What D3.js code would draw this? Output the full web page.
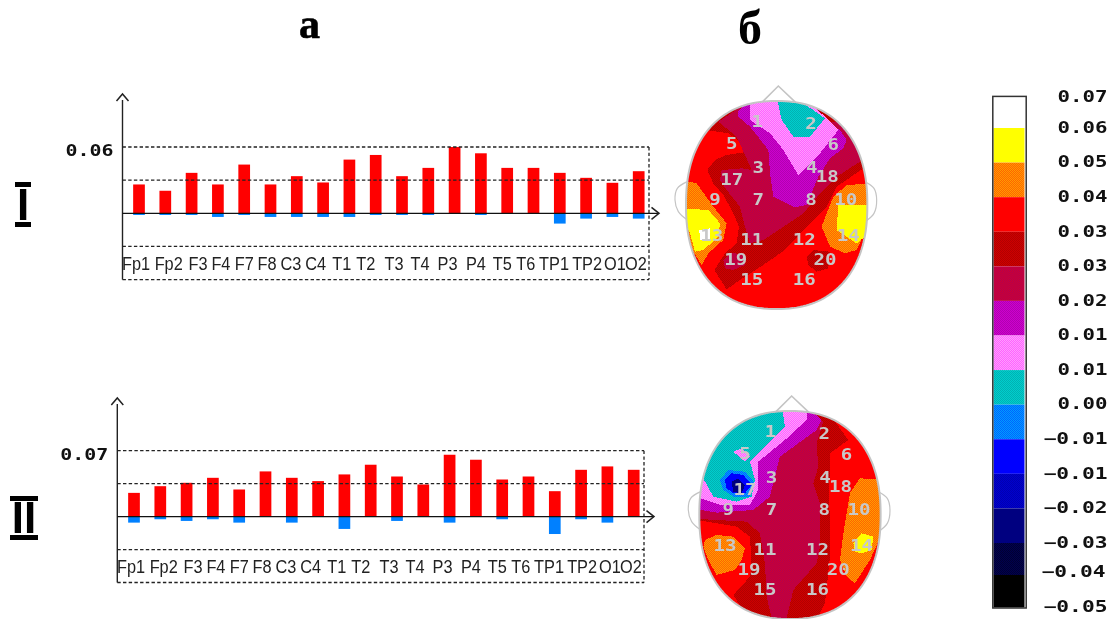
<!DOCTYPE html>
<html><head><meta charset="utf-8">
<script src="https://cdn.jsdelivr.net/npm/d3@7"></script>
<style>html,body{margin:0;padding:0;background:#fff}svg{display:block;filter:blur(.3px)}</style>
</head><body><svg id="c" width="1114" height="619"></svg>
<script>
// ---------- data ----------
const channels = ["Fp1","Fp2","F3","F4","F7","F8","C3","C4","T1","T2","T3","T4","P3","P4","T5","T6","TP1","TP2","O1","O2"];
const posI  = [0.0261,0.0204,0.0366,0.0261,0.0441,0.0261,0.0336,0.0279,0.0486,0.0528,0.0336,0.0411,0.0600,0.0543,0.0411,0.0411,0.0366,0.0321,0.0276,0.0381];
const negI  = [-0.0015,-0.0015,-0.0015,-0.0033,-0.0015,-0.0033,-0.0033,-0.0033,-0.0033,-0.0015,-0.0015,-0.0015,0,-0.0015,0,0,-0.0093,-0.0048,-0.0033,-0.0048];
const posII = [0.0252,0.0323,0.0359,0.0412,0.0288,0.0480,0.0412,0.0377,0.0448,0.0551,0.0426,0.0341,0.0657,0.0604,0.0394,0.0426,0.0270,0.0497,0.0533,0.0497];
const negII = [-0.0064,-0.0028,-0.0046,-0.0028,-0.0064,0,-0.0064,0,-0.0131,0,-0.0046,0,-0.0064,0,-0.0028,0,-0.0185,-0.0028,-0.0064,0];
const topI = 0.06, topII = 0.07;
const legendLabels = ["0.07","0.06","0.05","0.04","0.03","0.03","0.02","0.01","0.01","0.00","−0.01","−0.01","−0.02","−0.03","−0.04","−0.05"];
const electrodes = ["1","2","5","6","3","4","17","18","9","7","8","10","13","11","12","14","19","20","15","16"];
const electrodeX = [262,423,185,490,265,425,185,472,135,265,423,527,125,245,403,535,197,465,245,403];
const electrodeY = [125,132,192,195,262,262,300,290,360,360,360,360,467,480,480,467,538,538,598,598];
// colour levels, top of the legend to bottom: [colour A, colour B] dither pairs
const levels = [["#ffffff","#ffffff"],["#ffff00","#ffff00"],["#ff0000","#ffff00"],["#ff0000","#ff0000"],["#ff0000","#800000"],["#ff0000","#800080"],["#ff00ff","#800080"],["#ff00ff","#ffffff"],["#00ffff","#008080"],["#00ffff","#0000ff"],["#0000ff","#0000ff"],["#0000ff","#000080"],["#000080","#000080"],["#000080","#000000"],["#000000","#000000"]];
const O=2,Y=1,W=0,R=3,D=4,C=5,P=6,K=7,T=8,B=9,U=10,N=12;
const bandsI = [
 [D,[[110,150],[210,50],[510,90],[580,190],[580,265],[500,320],[470,380],[420,430],[345,510],[280,555],[210,600],[170,628],[133,570],[165,520],[200,490],[207,440],[190,400],[160,345],[130,310],[112,270],[135,240],[170,225],[235,215],[210,185],[175,160]]],
 [C,[[145,125],[205,85],[520,130],[570,205],[570,245],[500,290],[450,340],[400,400],[340,440],[280,480],[240,490],[225,440],[210,380],[170,330],[150,300],[155,270],[215,265],[245,270],[225,225],[200,170]]],
 [C,[[160,540],[185,518],[225,525],[225,555],[190,570],[165,565]]],
 [P,[[205,95],[240,55],[510,150],[530,180],[520,205],[480,235],[445,290],[410,375],[375,382],[310,350],[300,280],[295,210],[240,140],[205,110]]],
 [K,[[240,50],[400,50],[470,115],[505,150],[450,220],[385,285],[340,210],[300,160],[240,120]]],
 [T,[[320,50],[365,50],[430,90],[465,115],[420,170],[370,170],[335,120]]],
 [O,[[30,300],[80,310],[130,380],[170,430],[160,480],[115,520],[95,555],[60,500],[30,400]]],
 [Y,[[30,385],[115,390],[150,430],[145,470],[100,510],[75,515],[60,460]]],
 [W,[[88,450],[120,445],[120,480],[90,480]]],
 [O,[[610,310],[530,315],[490,350],[470,400],[455,440],[480,500],[525,520],[560,510],[610,400]]],
 [Y,[[610,375],[505,375],[500,450],[560,490],[610,450]]],
 [D,[[410,530],[430,510],[480,515],[475,565],[440,575],[415,555]]]
];
const bandsII = [
 [D,[[420,45],[495,150],[440,190],[438,300],[440,500],[425,640],[390,710],[210,710],[150,615],[200,560],[205,530],[200,440],[160,410],[10,385],[10,250],[150,40]]],
 [C,[[10,385],[190,395],[230,430],[245,520],[250,620],[270,705],[305,705],[330,600],[400,520],[410,470],[410,340],[390,280],[405,230],[400,160],[420,95],[360,40],[160,30],[10,250]]],
 [P,[[10,352],[100,368],[210,360],[260,320],[290,200],[400,120],[415,90],[370,50],[160,30],[10,250]]],
 [K,[[10,310],[110,345],[200,345],[225,300],[225,215],[305,150],[370,90],[370,30],[160,30],[10,250]]],
 [T,[[60,265],[90,320],[160,335],[205,320],[215,270],[200,215],[260,155],[305,110],[295,40],[160,30],[20,230]]],
 [K,[[150,185],[175,175],[200,200],[185,215]]],
 [B,[[110,270],[135,240],[185,245],[215,280],[200,320],[150,320],[120,300]]],
 [U,[[125,270],[145,250],[180,255],[205,285],[185,310],[150,310],[130,295]]],
 [N,[[145,275],[165,265],[185,285],[175,310],[150,305]]],
 [O,[[65,450],[100,435],[150,440],[185,475],[175,510],[155,540],[100,555],[75,510],[60,470]]],
 [O,[[610,270],[530,265],[500,310],[485,400],[475,470],[470,510],[490,560],[515,580],[560,510],[610,400]]],
 [Y,[[510,460],[535,430],[570,440],[565,480],[535,490],[515,485]]]
];
// scalp outline parts, in the same units
const nose = [[278,65],[325,18],[380,70]];
const earL = [[52,305],[22,325],[15,360],[25,395],[52,420]];
const earR = [[585,305],[612,325],[620,360],[612,400],[585,425]];
const scalpCentre = [320,375], scalpRadii = [272,312], scalpPower = 2.3;

// ---------- helpers ----------
const svg = d3.select("#c");
const defs = svg.append("defs");
levels.forEach((l,i)=>{
  const mid = d3.interpolateRgb(l[0],l[1])(.5);
  const p = defs.append("pattern").attr("id","lv"+i).attr("width",2).attr("height",2).attr("patternUnits","userSpaceOnUse").attr("shape-rendering","crispEdges");
  p.append("path").attr("d","M0 0H2V2H0Z").attr("fill",d3.interpolateRgb(mid,l[0])(.22));
  p.append("path").attr("d","M0 0H1V1H0ZM1 1H2V2H1Z").attr("fill",d3.interpolateRgb(mid,l[1])(.22));
});
const WIDE = "'DejaVu Sans Mono'";
function wide(sel){ // stretched bitmap-style numerals
  sel.attr("font-family",WIDE).attr("font-weight","bold").attr("font-size",15)
     .attr("lengthAdjust","spacingAndGlyphs");
}

// ---------- bar panels ----------
function barPanel(o){
  const step = (o.x1-o.x0)/19;
  const x = d3.scaleBand().domain(channels).range([o.x0-step/2,o.x1+step/2]).paddingInner(.555).paddingOuter(.2775);
  const y = d3.scaleLinear().domain([-o.top,o.top]).range([o.yBottom,o.yTop]);
  const g = svg.append("g");
  const dash = "3.4 2.3";
  g.append("g").selectAll("rect").data(o.neg).join("rect")
    .attr("x",(d,i)=>x(channels[i])).attr("width",x.bandwidth())
    .attr("y",y(0)).attr("height",d=>y(d)-y(0)).attr("fill","#0080ff");
  g.append("g").selectAll("rect").data(o.pos).join("rect")
    .attr("x",(d,i)=>x(channels[i])).attr("width",x.bandwidth())
    .attr("y",d=>y(d)).attr("height",d=>y(0)-y(d)).attr("fill","#ff0000");
  const right = o.x1+10.3;
  g.append("g").selectAll("line").data([o.top,o.top/2,-o.top/2,-o.top]).join("line")
    .attr("x1",o.axisX).attr("x2",right).attr("y1",d=>y(d)).attr("y2",d=>y(d))
    .attr("stroke","#222").attr("stroke-width",1.3).attr("stroke-dasharray",dash);
  g.append("line").attr("x1",right).attr("x2",right).attr("y1",y(o.top)).attr("y2",y(-o.top))
    .attr("stroke","#222").attr("stroke-width",1.3).attr("stroke-dasharray",dash);
  const ax = g.append("g").attr("transform",`translate(${o.axisX},0)`)
    .call(d3.axisLeft(y).tickValues([o.top]).tickSize(0).tickPadding(9).tickFormat(d3.format(".2f")));
  ax.select(".domain").remove();
  ax.selectAll("text").call(wide).attr("fill","#111").attr("textLength",48).attr("y",4).attr("dy",".32em");
  g.append("line").attr("x1",o.axisX).attr("x2",o.axisX).attr("y1",o.arrowTop).attr("y2",y(-o.top)).attr("stroke","#222").attr("stroke-width",1.4);
  g.append("line").attr("x1",o.axisX).attr("x2",right+10).attr("y1",y(0)).attr("y2",y(0)).attr("stroke","#111").attr("stroke-width",1.3);
  const chev = d3.line();
  g.append("path").attr("d",chev([[o.axisX-6,o.arrowTop+1],[o.axisX,o.arrowTop-6],[o.axisX+6,o.arrowTop+1]])).attr("fill","none").attr("stroke","#222").attr("stroke-width",1.5);
  g.append("path").attr("d",chev([[right+2.5,y(0)-6],[right+10,y(0)],[right+2.5,y(0)+6]])).attr("fill","none").attr("stroke","#222").attr("stroke-width",1.5);
  const nudge = [-3,3.4,6.4,3,0,-3.5,-5.8,-7.4,-7.7,-10,-8,-8.3,-7,-5,-5,-7.8,-5.8,1,2.6,-2.7];
  const cat = g.append("g").attr("transform",`translate(0,${o.labelY})`)
    .call(d3.axisBottom(x).tickSize(0).tickPadding(0));
  cat.select(".domain").remove();
  cat.selectAll(".tick text").attr("font-family","'Liberation Sans'").attr("font-size",19).attr("fill","#222")
    .attr("y",0).attr("dy",0)
    .attr("transform",(d,i)=>`translate(${nudge[i]},0) scale(.86,1)`);
}
barPanel({pos:posI,neg:negI,top:topI,x0:139,x1:638.7,axisX:122.5,yTop:147,yBottom:279.6,arrowTop:100,labelY:270});
barPanel({pos:posII,neg:negII,top:topII,x0:134,x1:633.7,axisX:117.3,yTop:450.7,yBottom:582.5,arrowTop:404,labelY:573.3});

// ---------- scalp maps ----------
function scalp(id,bands,x0,y0){
  const sx = d3.scaleLinear().domain([0,660]).range([x0,x0+220]);
  const sy = d3.scaleLinear().domain([0,705]).range([y0,y0+235]);
  const line = d3.line().x(d=>sx(d[0])).y(d=>sy(d[1]));
  const g = svg.append("g");
  const e = 2/scalpPower;
  const outline = d3.range(0,2*Math.PI,Math.PI/90).map(t=>{
    const c=Math.cos(t), s=Math.sin(t);
    return [scalpCentre[0]+scalpRadii[0]*Math.sign(c)*Math.pow(Math.abs(c),e),
            scalpCentre[1]+scalpRadii[1]*Math.sign(s)*Math.pow(Math.abs(s),e)];
  });
  const outlinePath = line(outline)+"Z";
  defs.append("clipPath").attr("id",id).append("path").attr("d",outlinePath);
  const gray="#c4c4c4";
  g.append("path").attr("d",line(nose)).attr("fill","none").attr("stroke",gray).attr("stroke-width",1.6);
  [earL,earR].forEach(p=>g.append("path").attr("d",line.curve(d3.curveCatmullRom)(p)).attr("fill","none").attr("stroke",gray).attr("stroke-width",1.2));
  line.curve(d3.curveLinear);
  const m = g.append("g").attr("clip-path",`url(#${id})`).attr("shape-rendering","crispEdges");
  m.append("path").attr("d",outlinePath).attr("fill",`url(#lv${R})`);
  m.selectAll("path.band").data(bands).join("path").attr("class","band").attr("d",d=>line(d[1])+"Z").attr("fill",d=>`url(#lv${d[0]})`);
  g.append("path").attr("d",outlinePath).attr("fill","none").attr("stroke",gray).attr("stroke-width",2);
  g.selectAll("text").data(electrodes).join("text")
    .attr("x",(d,i)=>sx(electrodeX[i])).attr("y",(d,i)=>sy(electrodeY[i])).attr("dy",".36em")
    .attr("text-anchor","middle").text(d=>d).attr("fill","#c8c8c8")
    .call(wide).attr("textLength",d=>d.length*11.5);
}
scalp("h1",bandsI,670,80);
scalp("h2",bandsII,683.3,390);

// ---------- legend ----------
const ly = d3.scaleLinear().domain([0,1,13,14,15]).range([97,128,543,575,607.5]);
const lg = svg.append("g");
lg.selectAll("rect").data(levels).join("rect")
  .attr("x",993.5).attr("width",31).attr("y",(d,i)=>ly(i)).attr("height",(d,i)=>ly(i+1)-ly(i))
  .attr("fill",(d,i)=>`url(#lv${i})`);
lg.append("rect").attr("x",992.8).attr("y",96.4).attr("width",33.4).attr("height",511.6).attr("fill","none").attr("stroke","#333").attr("stroke-width",1.5);
lg.selectAll("text").data(legendLabels).join("text")
  .attr("x",(d,i)=>i===14?1105.5:1107.5).attr("y",(d,i)=>ly(i)-(i===14?3:0.6)).attr("dy",".36em")
  .attr("text-anchor","end").text(d=>d).attr("fill","#111")
  .call(wide).attr("textLength",d=>d.length===4?50:64);

// ---------- headings ----------
const serif = "'Liberation Serif'";
svg.append("text").attr("x",309.5).attr("y",37.5).attr("text-anchor","middle").attr("font-family",serif).attr("font-weight","bold").attr("font-size",42).attr("stroke","#000").attr("stroke-width",.6).attr("fill","#000").text("а");
svg.append("text").attr("x",750).attr("y",44).attr("text-anchor","middle").attr("font-family",serif).attr("font-weight","bold").attr("font-size",48).attr("fill","#000").text("б");
[["I",23,220,15,31,182,222],["II",24,533,10,38,496,535]].forEach(r=>{
  svg.append("text").attr("x",r[1]).attr("y",r[2]).attr("text-anchor","middle").attr("font-family","'Liberation Sans'").attr("font-weight","bold").attr("font-size",44).attr("fill","#000").text(r[0]);
  [r[5],r[6]].forEach(y=>svg.append("rect").attr("x",r[3]).attr("y",y).attr("width",r[4]-r[3]).attr("height",5).attr("fill","#000"));
});
</script></body></html>
